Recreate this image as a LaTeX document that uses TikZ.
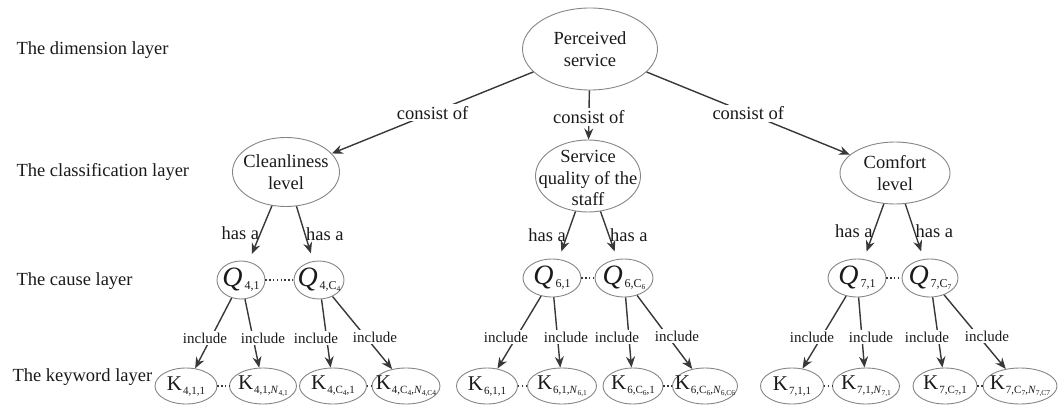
\documentclass[tikz,border=0pt]{standalone}
\usepackage{fontspec}
\setmainfont{Liberation Serif}
\usetikzlibrary{shapes.geometric,arrows.meta}
\definecolor{ln}{HTML}{858585}
\definecolor{ar}{HTML}{383838}
\definecolor{tx}{HTML}{1A1A1A}
\newcommand{\myQ}[1]{{\fontsize{28}{28}\selectfont\itshape Q}\kern2pt\raisebox{-3pt}{\fontsize{12}{12}\selectfont #1}}
\newcommand{\subsub}[1]{\raisebox{-2pt}{\fontsize{7.5}{7.5}\selectfont #1}}
\newcommand{\myK}[1]{{\fontsize{21}{21}\selectfont K}\kern1pt\raisebox{-4pt}{\fontsize{11}{11}\selectfont #1}}
\begin{document}
\begin{tikzpicture}[x=1pt,y=-1pt,
  every node/.style={text=tx, font=\fontsize{18.5}{21.5}\selectfont},
  ell/.style={ellipse, draw=ln, line width=0.9pt, inner sep=0pt},
  qell/.style={ell, minimum width=#1, minimum height=38pt},
  kell/.style={ell, minimum width=#1, minimum height=36pt},
  arr/.style={draw=ar, line width=1.4pt, -{Stealth[length=11pt,width=9pt]}},
  elab/.style={fill=white, inner sep=2pt},
  hasl/.style={inner sep=0.5pt},
  inc/.style={font=\fontsize{15}{17}\selectfont, fill=white, inner sep=1.5pt},
  dotline/.style={draw=ar, line width=1.4pt, dash pattern=on 1.4pt off 2.4pt}]
\useasboundingbox (0,0) rectangle (1063,409);

% layer labels
\node[anchor=west] (L1) at (13,50) {The dimension layer};
\node[anchor=west] (L2) at (13,172) {The classification layer};
\node[anchor=west] (L3) at (13,281) {The cause layer};
\node[anchor=west] (L4) at (9,377) {The keyword layer};

% dimension and classification
\node[ell, minimum width=135pt, minimum height=82pt, label={[align=center]center:Perceived\\service}] (root) at (590,49) {};
\node[ell, minimum width=107pt, minimum height=69pt, label={[align=center]center:Cleanliness\\level}] (Clean) at (286,172) {};
\node[ell, minimum width=105pt, minimum height=72pt, label={[align=center, yshift=-2pt]center:Service\\quality of the\\staff}] (Serv) at (588,176) {};
\node[ell, minimum width=110pt, minimum height=62pt, label={[align=center]center:Comfort\\level}] (Comf) at (895,173) {};

% cause layer
\node[qell=48pt, label=center:{\myQ{4,1}}] (Q41) at (241,280) {};
\node[qell=50pt, label=center:{\myQ{4,C\subsub{4}}}] (Q4C) at (319,280) {};
\node[qell=58pt, label=center:{\myQ{6,1}}] (Q61) at (552,278) {};
\node[qell=58pt, label=center:{\myQ{6,C\subsub{6}}}] (Q6C) at (624,278) {};
\node[qell=58pt, label=center:{\myQ{7,1}}] (Q71) at (857,278) {};
\node[qell=56pt, label=center:{\myQ{7,C\subsub{7}}}] (Q7C) at (930,278) {};

% keyword layer
\node[kell=62pt, label=center:{\myK{4,1,1}}] (K411) at (186,386) {};
\node[kell=67pt, label=center:{\myK{4,1,\textit{N}\subsub{4,1}}}] (K41N) at (263,386) {};
\node[kell=67pt, label=center:{\myK{4,C\subsub{4},1}}] (K4C1) at (333,386) {};
\node[kell=68pt, label=center:{\myK{4,C\subsub{4},\textit{N}\subsub{4,C4}}}] (K4CN) at (406,386) {};
\node[kell=61pt, label=center:{\myK{6,1,1}}] (K611) at (487,386) {};
\node[kell=69pt, label=center:{\myK{6,1,\textit{N}\subsub{6,1}}}] (K61N) at (562,386) {};
\node[kell=60pt, label=center:{\myK{6,C\subsub{6},1}}] (K6C1) at (633,386) {};
\node[kell=65pt, label=center:{\myK{6,C\subsub{6},\textit{N}\subsub{6,C6}}}] (K6CN) at (705,386) {};
\node[kell=63pt, label=center:{\myK{7,1,1}}] (K711) at (792,386) {};
\node[kell=67pt, label=center:{\myK{7,1,\textit{N}\subsub{7,1}}}] (K71N) at (866,386) {};
\node[kell=64pt, label=center:{\myK{7,C\subsub{7},1}}] (K7C1) at (945,386) {};
\node[kell=74pt, label=center:{\myK{7,C\subsub{7},\textit{N}\subsub{7,C7}}}] (K7CN) at (1020,386) {};

% consist of
\draw[arr] (root) -- node[elab] (c1) {consist of} (Clean);
\draw[arr] (root) -- node[elab, pos=0.54] (c2) {consist of} (Serv);
\draw[arr] (root) -- node[elab] (c3) {consist of} (Comf);

% has a
\draw[arr, shorten >=8pt] (Clean) -- node[hasl, anchor=east] (h1) {has a} (Q41);
\draw[arr, shorten >=8pt] (Clean) -- node[hasl, anchor=west] (h2) {has a} (Q4C);
\draw[arr, shorten >=8pt] (Serv) -- node[hasl, anchor=east] (h3) {has a} (Q61);
\draw[arr, shorten >=8pt] (Serv) -- node[hasl, anchor=west] (h4) {has a} (Q6C);
\draw[arr, shorten >=8pt] (Comf) -- node[hasl, anchor=east] (h5) {has a} (Q71);
\draw[arr, shorten >=8pt] (Comf) -- node[hasl, anchor=west] (h6) {has a} (Q7C);

% include
\draw[arr] (Q41) -- (K411);
\draw[arr] (Q41) -- (K41N);
\draw[arr] (Q4C) -- (K4C1);
\draw[arr] (Q4C) -- (K4CN);
\draw[arr] (Q61) -- (K611);
\draw[arr] (Q61) -- (K61N);
\draw[arr] (Q6C) -- (K6C1);
\draw[arr] (Q6C) -- (K6CN);
\draw[arr] (Q71) -- (K711);
\draw[arr] (Q71) -- (K71N);
\draw[arr] (Q7C) -- (K7C1);
\draw[arr] (Q7C) -- (K7CN);
\node[inc] (i1) at (205,338) {include};
\node[inc] (i2) at (263,338) {include};
\node[inc] (i3) at (316,338) {include};
\node[inc] (i4) at (375,337) {include};
\node[inc] (i5) at (506,337) {include};
\node[inc] (i6) at (566,337) {include};
\node[inc] (i7) at (617,337) {include};
\node[inc] (i8) at (677,336) {include};
\node[inc] (i9) at (812,337) {include};
\node[inc] (i10) at (871,337) {include};
\node[inc] (i11) at (927,337) {include};
\node[inc] (i12) at (987,336) {include};

% dots
\draw[dotline] (Q41) -- (Q4C);
\draw[dotline] (Q61) -- (Q6C);
\draw[dotline] (Q71) -- (Q7C);
\draw[dotline] (K411) -- (K41N);
\draw[dotline] (K4C1) -- (K4CN);
\draw[dotline] (K611) -- (K61N);
\draw[dotline] (K6C1) -- (K6CN);
\draw[dotline] (K711) -- (K71N);
\draw[dotline] (K7C1) -- (K7CN);
\end{tikzpicture}
\end{document}
